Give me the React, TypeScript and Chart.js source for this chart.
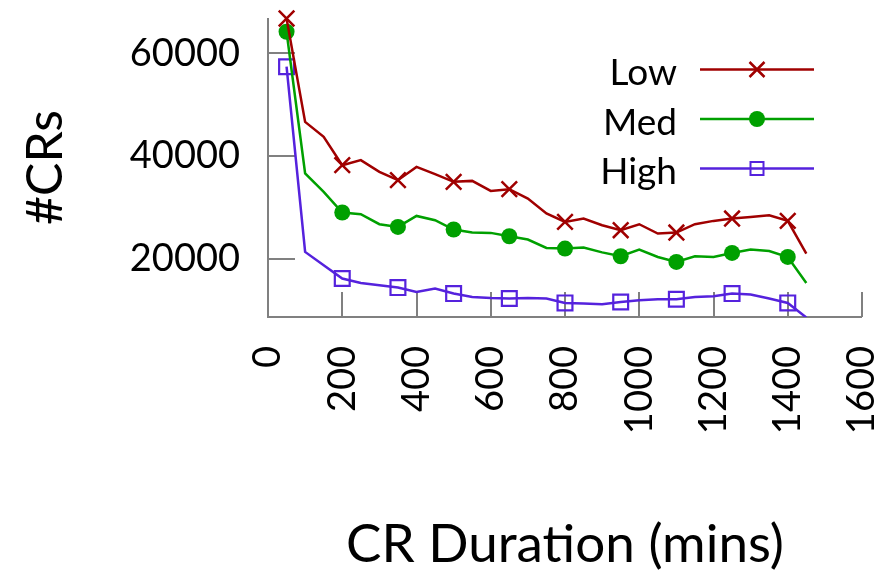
import React, { useEffect, useRef } from 'react';
import { Chart, registerables } from 'chart.js';

Chart.register(...registerables);

const durations = [50, 100, 150, 200, 250, 300, 350, 400, 450, 500, 550, 600, 650, 700, 750, 800, 850, 900, 950, 1000, 1050, 1100, 1150, 1200, 1250, 1300, 1350, 1400, 1450];
const lowCRs = [66800, 46650, 43730, 38200, 39180, 36900, 35280, 37870, 36450, 34950, 35140, 33190, 33520, 31700, 28780, 27140, 27800, 26500, 25520, 26690, 24880, 25070, 26690, 27340, 27800, 28120, 28450, 27340, 20980];
const medCRs = [64220, 36590, 33000, 28980, 28640, 26690, 26170, 28310, 27470, 25660, 25070, 25000, 24350, 23710, 22070, 21950, 22150, 21200, 20450, 21750, 20310, 19340, 20450, 20310, 21090, 21750, 21480, 20310, 15240];
const highCRs = [57400, 21290, 18690, 16100, 15240, 14790, 14340, 13480, 14150, 13170, 12510, 12310, 12200, 12310, 12200, 11340, 11220, 11080, 11530, 11860, 12060, 12060, 12510, 12640, 13170, 12980, 12200, 11340, 8500];
const xTickValues = [0, 200, 400, 600, 800, 1000, 1200, 1400, 1600];
const yTickValues = [20000, 40000, 60000];
const seriesNames = ['Low', 'Med', 'High'];
const seriesColors = ['#a00000', '#00a000', '#5522dd'];

const FONT = 'Lato';
const AXIS_COLOR = '#808080';

const axesPlugin = {
  id: 'gnuplotAxes',
  beforeDatasetsDraw(chart: any) {
    const { ctx, chartArea } = chart;
    const xs = chart.scales.x;
    const ys = chart.scales.y;
    ctx.save();
    ctx.strokeStyle = AXIS_COLOR;
    ctx.lineWidth = 2;
    ctx.lineCap = 'butt';
    ctx.beginPath();
    ctx.moveTo(chartArea.left, chartArea.top);
    ctx.lineTo(chartArea.left, chartArea.bottom);
    ctx.lineTo(chartArea.right, chartArea.bottom);
    ctx.stroke();
    ctx.beginPath();
    for (const v of yTickValues) {
      const y = Math.round(ys.getPixelForValue(v));
      ctx.moveTo(chartArea.left, y);
      ctx.lineTo(chartArea.left + 27, y);
    }
    for (const v of xTickValues) {
      const x = Math.round(xs.getPixelForValue(v));
      ctx.moveTo(x, chartArea.bottom);
      ctx.lineTo(x, chartArea.bottom - 25);
    }
    ctx.stroke();
    ctx.restore();
  },
};

function drawMarker(ctx: CanvasRenderingContext2D, style: string, x: number, y: number, color: string) {
  ctx.save();
  ctx.strokeStyle = color;
  ctx.fillStyle = color;
  if (style === 'crossRot') {
    const o = 7.5;
    ctx.lineWidth = 2.5;
    ctx.beginPath();
    ctx.moveTo(x - o, y - o);
    ctx.lineTo(x + o, y + o);
    ctx.moveTo(x - o, y + o);
    ctx.lineTo(x + o, y - o);
    ctx.stroke();
  } else if (style === 'circle') {
    ctx.beginPath();
    ctx.arc(x, y, 8, 0, Math.PI * 2);
    ctx.fill();
  } else {
    ctx.lineWidth = 2;
    ctx.strokeRect(x - 6.5, y - 6.5, 13, 13);
  }
  ctx.restore();
}

const legendPlugin = {
  id: 'insideLegend',
  afterDatasetsDraw(chart: any) {
    const { ctx } = chart;
    const lineY = [69.5, 119, 168.5];
    const baseY = [85, 135, 184];
    chart.data.datasets.forEach((ds: any, i: number) => {
      ctx.save();
      ctx.font = `37px ${FONT}`;
      ctx.fillStyle = '#000';
      ctx.textAlign = 'right';
      ctx.textBaseline = 'alphabetic';
      ctx.fillText(ds.label, 677, baseY[i]);
      ctx.strokeStyle = ds.borderColor;
      ctx.lineWidth = 2.5;
      ctx.beginPath();
      ctx.moveTo(700, lineY[i]);
      ctx.lineTo(814, lineY[i]);
      ctx.stroke();
      ctx.restore();
      drawMarker(ctx, ds.pointStyle, 757, lineY[i], ds.borderColor);
    });
  },
};

const markerEvery = (c: any, r: number) => (c.dataIndex % 3 === 0 ? r : 0);
const plainLabel = (v: any) => String(v);

export default function App() {
  const canvasRef = useRef<HTMLCanvasElement | null>(null);

  useEffect(() => {
    if (!canvasRef.current) return;
    const mk = (vals: number[]) => durations.map((x, i) => ({ x, y: vals[i] }));
    const chart = new Chart(canvasRef.current, {
      type: 'line',
      data: {
        datasets: [
          {
            label: seriesNames[0],
            data: mk(lowCRs),
            borderColor: seriesColors[0],
            backgroundColor: seriesColors[0],
            borderWidth: 2.5,
            pointStyle: 'crossRot',
            pointRadius: (c: any) => markerEvery(c, 11),
            pointBorderWidth: 2.5,
            tension: 0,
            clip: { left: 30, top: 30, right: 30, bottom: 0 },
          },
          {
            label: seriesNames[1],
            data: mk(medCRs),
            borderColor: seriesColors[1],
            backgroundColor: seriesColors[1],
            borderWidth: 2.5,
            pointStyle: 'circle',
            pointRadius: (c: any) => markerEvery(c, 8),
            pointBorderWidth: 0,
            tension: 0,
            clip: { left: 30, top: 30, right: 30, bottom: 0 },
          },
          {
            label: seriesNames[2],
            data: mk(highCRs),
            borderColor: seriesColors[2],
            backgroundColor: 'rgba(0,0,0,0)',
            borderWidth: 2.5,
            pointStyle: 'rect',
            pointRadius: (c: any) => markerEvery(c, 10.5),
            pointBorderWidth: 2.2,
            tension: 0,
            clip: { left: 30, top: 30, right: 30, bottom: 0 },
          },
        ] as any,
      },
      options: {
        animation: false,
        responsive: false,
        devicePixelRatio: 1,
        events: [],
        layout: { padding: { top: 18, right: 24, left: 0, bottom: 0 } },
        plugins: {
          legend: { display: false },
          tooltip: { enabled: false },
        },
        scales: {
          x: {
            type: 'linear',
            min: 0,
            max: 1600,
            afterBuildTicks: (s: any) => {
              s.ticks = xTickValues.map((v) => ({ value: v }));
            },
            afterFit: (s: any) => {
              s.height = 267;
              s.paddingLeft = 0;
              s.paddingRight = 0;
            },
            ticks: {
              autoSkip: false,
              minRotation: 90,
              maxRotation: 90,
              padding: 29,
              color: '#000',
              font: { family: FONT, size: 38 },
              callback: plainLabel,
            },
            grid: { display: false, drawTicks: false },
            border: { display: false },
            title: {
              display: true,
              text: 'CR Duration (mins)',
              color: '#000',
              font: { family: FONT, size: 53, lineHeight: 1 },
              padding: { top: 0, bottom: 13 },
            },
          },
          y: {
            type: 'linear',
            min: 8600,
            max: 66900,
            afterBuildTicks: (s: any) => {
              s.ticks = yTickValues.map((v) => ({ value: v }));
            },
            afterFit: (s: any) => {
              s.width = 268;
              s.paddingTop = 0;
              s.paddingBottom = 0;
            },
            ticks: {
              padding: 28,
              color: '#000',
              font: { family: FONT, size: 38 },
              callback: plainLabel,
            },
            grid: { display: false, drawTicks: false },
            border: { display: false },
            title: {
              display: true,
              text: '#CRs',
              color: '#000',
              font: { family: FONT, size: 50, lineHeight: 1 },
              padding: { top: 21, bottom: 0 },
            },
          },
        },
      } as any,
      plugins: [axesPlugin, legendPlugin],
    });
    return () => chart.destroy();
  }, []);

  return (
    <div style={{ position: 'absolute', left: 0, top: 0, width: 886, height: 584, background: '#fff' }}>
      <canvas ref={canvasRef} width={886} height={584} style={{ display: 'block', width: 886, height: 584 }} />
    </div>
  );
}
